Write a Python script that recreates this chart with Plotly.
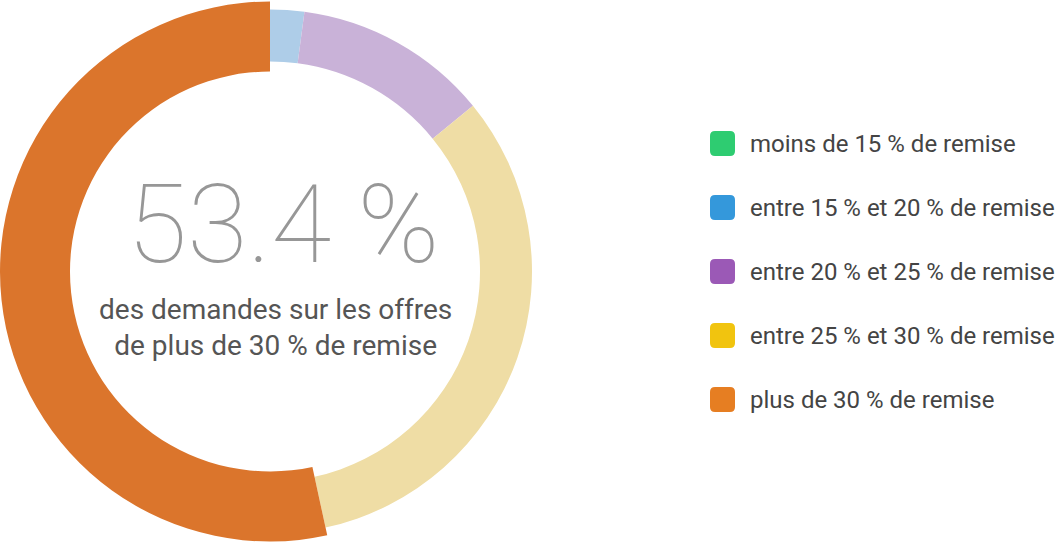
import plotly.graph_objects as go

W, H = 1057, 543

categories = [
    "moins de 15 % de remise",
    "entre 15 % et 20 % de remise",
    "entre 20 % et 25 % de remise",
    "entre 25 % et 30 % de remise",
    "plus de 30 % de remise",
]
values = [0.0, 2.1, 12.0, 32.5, 53.4]
slice_colors = ["#a8e6c1", "#aecde8", "#c9b2d8", "#efdda5", "#db752c"]
legend_colors = ["#2ecc71", "#3498db", "#9b59b6", "#f1c40f", "#e67e22"]
highlight_index = 4
center_value = "53.4 %"
center_caption = "des demandes sur les offres<br>de plus de 30 % de remise"

cx, cy = 270, 271.5
r_norm, hole_norm = 262, 210
r_hi, hole_hi = 270, 200


def domain(r):
    return dict(x=[(cx - r) / W, (cx + r) / W], y=[(H - cy - r) / H, (H - cy + r) / H])


colors_norm = [c if i != highlight_index else "rgba(0,0,0,0)" for i, c in enumerate(slice_colors)]
colors_hi = [c if i == highlight_index else "rgba(0,0,0,0)" for i, c in enumerate(slice_colors)]

fig = go.Figure()
fig.add_trace(go.Pie(
    labels=categories, values=values, sort=False, direction="clockwise", rotation=0,
    hole=hole_norm / r_norm, domain=domain(r_norm),
    marker=dict(colors=colors_norm, line=dict(width=0)),
    textinfo="none", showlegend=False, hoverinfo="label+percent",
))
fig.add_trace(go.Pie(
    labels=categories, values=values, sort=False, direction="clockwise", rotation=0,
    hole=hole_hi / r_hi, domain=domain(r_hi),
    marker=dict(colors=colors_hi, line=dict(width=0)),
    textinfo="none", showlegend=False, hoverinfo="label+percent",
))

shapes = []
annotations = []
lx, ly0, dy, sz, rad = 710, 131, 64, 25, 5
for i, (cat, col) in enumerate(zip(categories, legend_colors)):
    x0, y0 = lx, ly0 + i * dy
    x1, y1 = x0 + sz, y0 + sz
    path = (f"M{x0+rad},{y0} L{x1-rad},{y0} Q{x1},{y0} {x1},{y0+rad} "
            f"L{x1},{y1-rad} Q{x1},{y1} {x1-rad},{y1} L{x0+rad},{y1} "
            f"Q{x0},{y1} {x0},{y1-rad} L{x0},{y0+rad} Q{x0},{y0} {x0+rad},{y0} Z")
    shapes.append(dict(type="path", path=path, xref="x", yref="y",
                       fillcolor=col, line=dict(width=0)))
    annotations.append(dict(x=748, y=y0 + sz / 2, xref="x", yref="y", text=cat,
                            showarrow=False, xanchor="left", yanchor="middle",
                            font=dict(family="Roboto", size=24, color="#444444")))

annotations.append(dict(x=283, y=224, xref="x", yref="y", text=center_value,
                        showarrow=False, xanchor="center", yanchor="middle",
                        font=dict(family="Roboto", size=110, color="#979797", weight=100)))
annotations.append(dict(x=275, y=327, xref="x", yref="y", text=center_caption,
                        showarrow=False, xanchor="center", yanchor="middle",
                        font=dict(family="Roboto", size=28, color="#555555")))

fig.update_layout(
    width=W, height=H, margin=dict(l=0, r=0, t=0, b=0),
    paper_bgcolor="white", plot_bgcolor="rgba(0,0,0,0)",
    xaxis=dict(range=[0, W], visible=False, fixedrange=True, domain=[0, 1]),
    yaxis=dict(range=[H, 0], visible=False, fixedrange=True, domain=[0, 1]),
    shapes=shapes, annotations=annotations, showlegend=False,
)

fig.write_html("out.html")
